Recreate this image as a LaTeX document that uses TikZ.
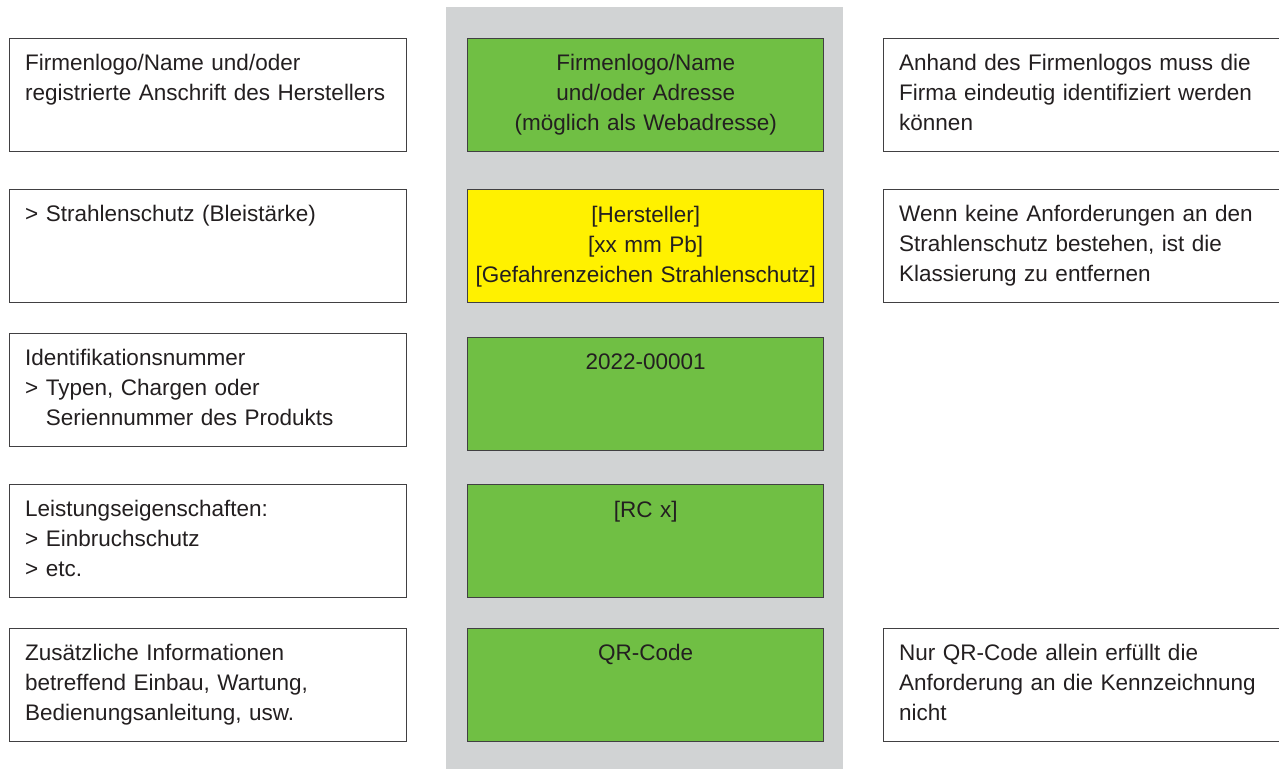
\documentclass[tikz,border=0pt]{standalone}
\usepackage{fontspec}
\setmainfont{Liberation Sans}
\definecolor{markgreen}{HTML}{70BF44}
\definecolor{markyellow}{HTML}{FFF100}
\definecolor{columngrey}{HTML}{D1D3D4}
\definecolor{framegrey}{HTML}{414042}
\definecolor{inkblack}{HTML}{231F20}
\begin{document}
\begin{tikzpicture}[x=1pt, y=-1pt,
  infobox/.style={draw=framegrey, line width=1.4pt, anchor=north west, minimum width=397pt, minimum height=113pt, inner sep=0pt, fill=white},
  markbox/.style={infobox, minimum width=356pt, fill=markgreen},
  infotext/.style={anchor=base west, align=left, text width=380pt, inner sep=0pt, text=inkblack, font=\fontsize{22.5pt}{30pt}\selectfont},
  marktext/.style={infotext, anchor=base, align=center, text width=350pt}]
\useasboundingbox (0,0) rectangle (1279,769);
\node[fill=columngrey, anchor=north west, minimum width=397pt, minimum height=762pt, inner sep=0pt] (column) at (446,7) {};
% left column
\node[infobox] (l1) at (9,38) {};
\node[infobox] (l2) at (9,189) {};
\node[infobox] (l3) at (9,333) {};
\node[infobox] (l4) at (9,484) {};
\node[infobox] (l5) at (9,628) {};
\node[infotext] (l1t) at ([xshift=16pt,yshift=-32pt]l1.north west) {Firmenlogo/Name und/oder\\registrierte Anschrift des Herstellers};
\node[infotext] (l2t) at ([xshift=16pt,yshift=-32pt]l2.north west) {> Strahlenschutz (Bleistärke)};
\node[infotext] (l3t) at ([xshift=16pt,yshift=-32pt]l3.north west) {Identifikationsnummer\\> Typen, Chargen oder\\\phantom{> }Seriennummer des Produkts};
\node[infotext] (l4t) at ([xshift=16pt,yshift=-32pt]l4.north west) {Leistungseigenschaften:\\> Einbruchschutz\\> etc.};
\node[infotext] (l5t) at ([xshift=16pt,yshift=-32pt]l5.north west) {Zusätzliche Informationen\\betreffend Einbau, Wartung,\\Bedienungsanleitung, usw.};
% marking
\node[markbox] (m1) at (467,38) {};
\node[markbox, fill=markyellow] (m2) at (467,189) {};
\node[markbox] (m3) at (467,337) {};
\node[markbox] (m4) at (467,484) {};
\node[markbox] (m5) at (467,628) {};
\node[marktext] (m1t) at ([yshift=-32pt]m1.north) {Firmenlogo/Name\\und/oder Adresse\\(möglich als Webadresse)};
\node[marktext] (m2t) at ([yshift=-33pt]m2.north) {{[}Hersteller{]}\\{[}xx mm Pb{]}\\{[}Gefahrenzeichen Strahlenschutz{]}};
\node[marktext] (m3t) at ([yshift=-32pt]m3.north) {2022-00001};
\node[marktext] (m4t) at ([yshift=-33pt]m4.north) {{[}RC x{]}};
\node[marktext] (m5t) at ([yshift=-32pt]m5.north) {QR-Code};
% right column
\node[infobox] (r1) at (883,38) {};
\node[infobox] (r2) at (883,189) {};
\node[infobox] (r5) at (883,628) {};
\node[infotext] (r1t) at ([xshift=16pt,yshift=-32pt]r1.north west) {Anhand des Firmenlogos muss die\\Firma eindeutig identifiziert werden\\können};
\node[infotext] (r2t) at ([xshift=16pt,yshift=-32pt]r2.north west) {Wenn keine Anforderungen an den\\Strahlenschutz bestehen, ist die\\Klassierung zu entfernen};
\node[infotext] (r5t) at ([xshift=16pt,yshift=-32pt]r5.north west) {Nur QR-Code allein erfüllt die\\Anforderung an die Kennzeichnung\\nicht};
\end{tikzpicture}
\end{document}
